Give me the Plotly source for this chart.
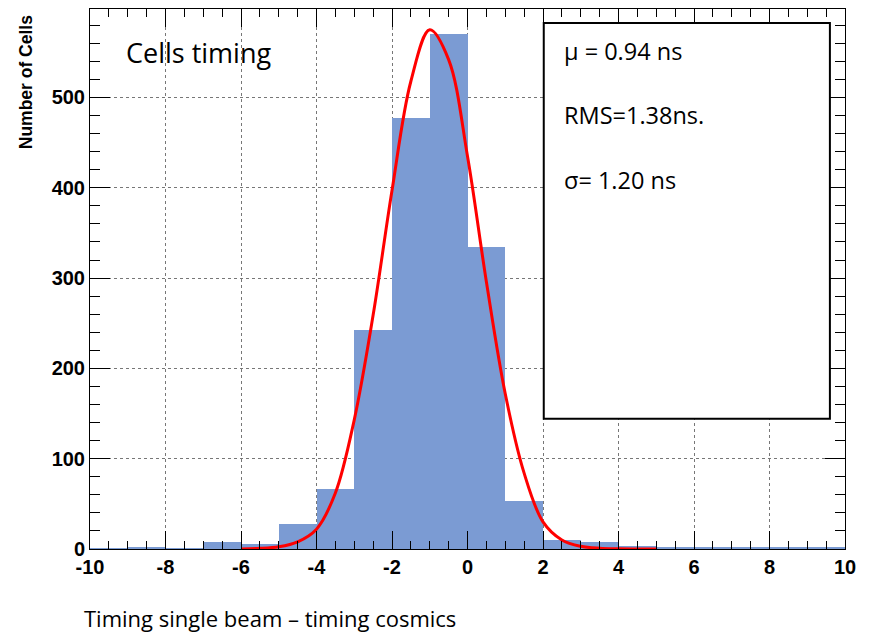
import plotly.graph_objects as go

# ---- data ----
bin_left = [-10, -9, -8, -7, -6, -5, -4, -3, -2, -1, 0, 1, 2, 3, 4, 5, 6, 7, 8, 9]
bin_counts = [1, 2.5, 1, 7.3, 5.9, 27.6, 66.8, 243, 477, 570.5,
              334, 52.7, 10.3, 7.3, 3.7, 1.4, 1.4, 1.4, 2.5, 2.5]
bin_width = 1

fit_x = [-6, -5.5, -5, -4.5, -4, -3.5, -3, -2.5, -2, -1.5, -1, -0.5,
         0, 0.5, 1, 1.5, 2, 2.5, 3, 3.5, 4, 4.5, 5]
fit_y = [0.1, 0.7, 2.5, 8, 22, 62, 143, 259, 397, 518, 575, 542,
         435, 296, 172, 84, 30, 10, 3, 0.8, 0.2, 0.05, 0]

x_ticks = [-10, -8, -6, -4, -2, 0, 2, 4, 6, 8, 10]
x_tick_labels = ["-10", "-8", "-6", "-4", "-2", "0", "2", "4", "6", "8", "10"]
y_ticks = [0, 100, 200, 300, 400, 500]
y_tick_labels = ["0", "100", "200", "300", "400", "500"]

title_text = "Cells timing"
stat_lines = ["\u03bc = 0.94 ns", "RMS=1.38ns.", "\u03c3= 1.20 ns"]
x_title = "Timing single beam \u2013 timing cosmics"
y_title = "Number of Cells"

# ---- figure ----
fig = go.Figure()
fig.add_trace(go.Bar(
    x=[b + bin_width / 2 for b in bin_left],
    y=bin_counts,
    width=bin_width,
    marker=dict(color="#7b9bd3", line=dict(width=0)),
    showlegend=False,
))
fig.add_trace(go.Scatter(
    x=fit_x, y=fit_y, mode="lines",
    line=dict(color="#ff0000", width=3, shape="spline"),
    showlegend=False,
))

tickfont = dict(family="Liberation Sans", size=20, color="black", weight="bold")

fig.update_layout(
    width=869, height=632,
    margin=dict(l=90, r=24, t=9, b=83),
    paper_bgcolor="white", plot_bgcolor="white",
    bargap=0,
    xaxis=dict(
        range=[-10, 10], tickvals=x_ticks, ticktext=x_tick_labels,
        ticks="inside", ticklen=18, tickwidth=1, tickcolor="black",
        minor=dict(dtick=0.5, ticks="inside", ticklen=8, tickcolor="black", showgrid=False),
        showgrid=True, gridcolor="#777777", griddash="dot", gridwidth=1,
        showline=True, linecolor="black", linewidth=1, mirror="allticks",
        zeroline=False, tickfont=tickfont,
    ),
    yaxis=dict(
        range=[0, 598], tickvals=y_ticks, ticktext=y_tick_labels,
        ticks="inside", ticklen=20, tickwidth=1, tickcolor="black",
        minor=dict(dtick=20, ticks="inside", ticklen=10, tickcolor="black", showgrid=False),
        showgrid=True, gridcolor="#777777", griddash="dot", gridwidth=1,
        showline=True, linecolor="black", linewidth=1, mirror="allticks",
        zeroline=False, tickfont=tickfont,
    ),
)

# stats box
fig.add_shape(type="rect", xref="paper", yref="paper",
              x0=0.601, x1=0.980, y0=0.241, y1=0.974,
              line=dict(color="black", width=2), fillcolor="white", layer="above")

txtfont = dict(family="Open Sans", color="black")
fig.add_annotation(text=title_text, xref="paper", yref="paper", x=0.0447, y=0.919,
                   xanchor="left", yanchor="middle", showarrow=False,
                   font=dict(size=27, **txtfont))
for txt, yy in zip(stat_lines, [0.923, 0.8046, 0.684]):
    fig.add_annotation(text=txt, xref="paper", yref="paper", x=0.625, y=yy,
                       xanchor="left", yanchor="middle", showarrow=False,
                       font=dict(size=23.5, **txtfont))
fig.add_annotation(text=x_title, xref="paper", yref="paper", x=-0.0109, y=-0.127,
                   xanchor="left", yanchor="middle", showarrow=False,
                   font=dict(size=22, **txtfont))
fig.add_annotation(text=y_title, xref="paper", yref="paper", x=-0.0837, y=0.864,
                   xanchor="center", yanchor="middle", textangle=-90, showarrow=False,
                   font=dict(family="Liberation Sans", size=17.5, color="black", weight="bold"))

fig.write_html("out.html", config={"displayModeBar": False},
               post_script="document.body.style.margin='0';document.body.style.padding='0';")
